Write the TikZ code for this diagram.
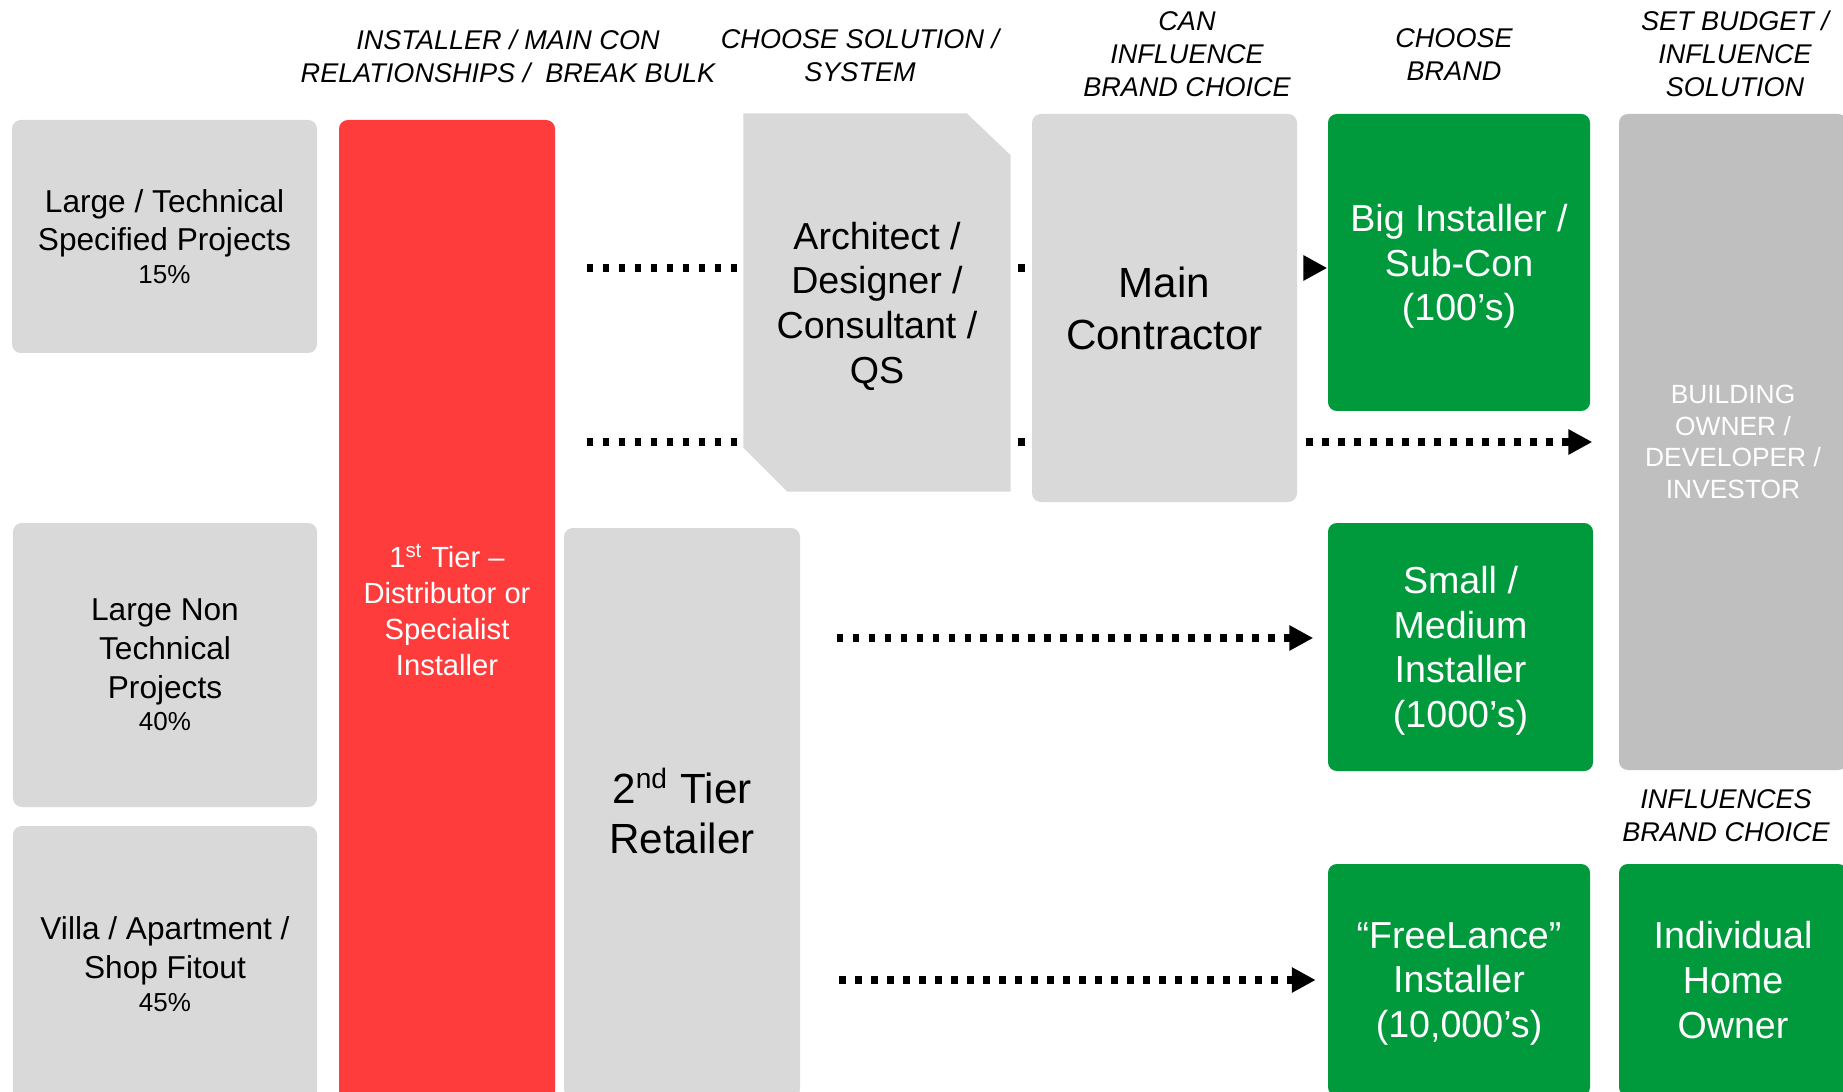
\documentclass[tikz,border=0pt]{standalone}
\usepackage{fontspec}
\setmainfont{Liberation Sans}
\usetikzlibrary{positioning, calc, arrows.meta, backgrounds}

\definecolor{boxgray}{RGB}{217,217,217}
\definecolor{ownergray}{RGB}{191,191,191}
\definecolor{tiergreen}{RGB}{0,154,61}
\definecolor{tierred}{RGB}{255,60,60}

\tikzset{
  box/.style={rectangle, rounded corners=2.5pt, fill=boxgray, draw=none, align=center, inner sep=0pt},
  greenbox/.style={box, fill=tiergreen, text=white, font=\fontsize{10.7}{12.7}\selectfont},
  segbox/.style={box, font=\fontsize{9}{11}\selectfont},
  hdr/.style={align=center, inner sep=0pt, font=\fontsize{7.7}{9.4}\selectfont\itshape},
  sz/.style 2 args={minimum width=#1cm, minimum height=#2cm},
  flow/.style={line width=2.1pt, dash pattern=on 1.9pt off 2.65pt, -{Triangle[length=6.8pt,width=6.8pt]}},
}
\newcommand{\pct}[1]{\\[-1.7pt]{\fontsize{7.4}{9}\selectfont #1}}

\begin{document}
\begin{tikzpicture}
            \path[use as bounding box, clip] (0,0) rectangle (18.43,-10.92);

            % market segments
            \node[segbox, sz={3.05}{2.33}] (segA) at (1.645,-2.365) {Large / Technical\\Specified Projects\pct{15\%}};
            \node[segbox, sz={3.04}{2.84}] (segB) at (1.65,-6.65) {Large Non\\Technical\\Projects\pct{40\%}};
            \node[segbox, sz={3.04}{2.76}] (segC) at (1.65,-9.64) {Villa / Apartment /\\Shop Fitout\pct{45\%}};

            % channel tiers
            \node[box, fill=tierred, text=white, sz={2.16}{9.8}, font=\fontsize{8.3}{10.2}\selectfont] (tier1) at (4.47,-6.10) {1\textsuperscript{st} Tier –\\Distributor or\\Specialist\\Installer};
            \node[box, sz={2.36}{5.7}, text depth=1.4pt, font=\fontsize{12}{14.2}\selectfont] (tier2) at (6.82,-8.13) {2\textsuperscript{nd} Tier\\Retailer};

            \node[box, fill=none, sz={2.66}{3.77}, text depth=-2.4pt, font=\fontsize{10.7}{12.7}\selectfont] (arch) at (8.77,-3.025) {Architect /\\Designer /\\Consultant /\\QS};
            \node[box, sz={2.65}{3.88}, font=\fontsize{12}{14.8}\selectfont] (mainc) at (11.645,-3.08) {Main\\Contractor};

            % installers
            \node[greenbox, text depth=0pt, sz={2.62}{2.97}] (bigins) at (14.59,-2.625) {Big Installer /\\Sub-Con\\(100’s)};
            \node[greenbox, text depth=0pt, sz={2.65}{2.48}] (smins) at (14.605,-6.47) {Small /\\Medium\\Installer\\(1000’s)};
            \node[greenbox, text depth=0pt, sz={2.62}{2.32}] (freeins) at (14.59,-9.80) {“FreeLance”\\Installer\\(10,000’s)};

            % owners
            \node[box, fill=ownergray, text=white, sz={2.28}{6.56}, font=\fontsize{7.5}{9}\selectfont] (owner) at (17.33,-4.42) {BUILDING\\OWNER /\\DEVELOPER /\\INVESTOR};
            \node[greenbox, sz={2.28}{2.32}] (home) at (17.33,-9.80) {Individual\\Home\\Owner};

            % column headings
            \node[hdr] (hdr1) at (5.08,-0.565) {INSTALLER / MAIN CON\\RELATIONSHIPS /~~BREAK BULK};
            \node[hdr] (hdr2) at (8.60,-0.55) {CHOOSE SOLUTION /\\SYSTEM};
            \node[hdr] (hdr3) at (11.87,-0.54) {CAN\\INFLUENCE\\BRAND CHOICE};
            \node[hdr] (hdr4) at (14.54,-0.55) {CHOOSE\\BRAND};
            \node[hdr] (hdr5) at (17.35,-0.54) {SET BUDGET /\\INFLUENCE\\SOLUTION};
            \node[hdr] (hdr6) at (17.26,-8.16) {INFLUENCES\\BRAND CHOICE};

            \coordinate (r1) at ($(bigins.west)+(0,-0.055)$);
            \coordinate (r3) at ($(smins.west)+(0,0.09)$);

            \begin{scope}[on background layer]
            \draw[flow, shorten <=8.8pt] (tier1.east |- r1) -- (r1);
            \draw[flow, shorten <=8.8pt, shorten >=7.4pt] (tier1.east |- owner.west) -- (owner.west);
            \draw[flow, shorten <=10.2pt, shorten >=4pt] (tier2.east |- r3) -- (r3);
            \draw[flow, shorten <=11pt, shorten >=3.3pt] (tier2.east |- freeins.west) -- (freeins.west);
            % architect box with cut corners
            \fill[boxgray] (arch.north west) -- ($(arch.north east)+(-0.44,0)$) -- ($(arch.north east)+(0,-0.42)$)
                -- (arch.south east) -- ($(arch.south west)+(0.44,0)$) -- ($(arch.south west)+(0,0.44)$) -- cycle;
            \end{scope}
        \end{tikzpicture}
\end{document}
